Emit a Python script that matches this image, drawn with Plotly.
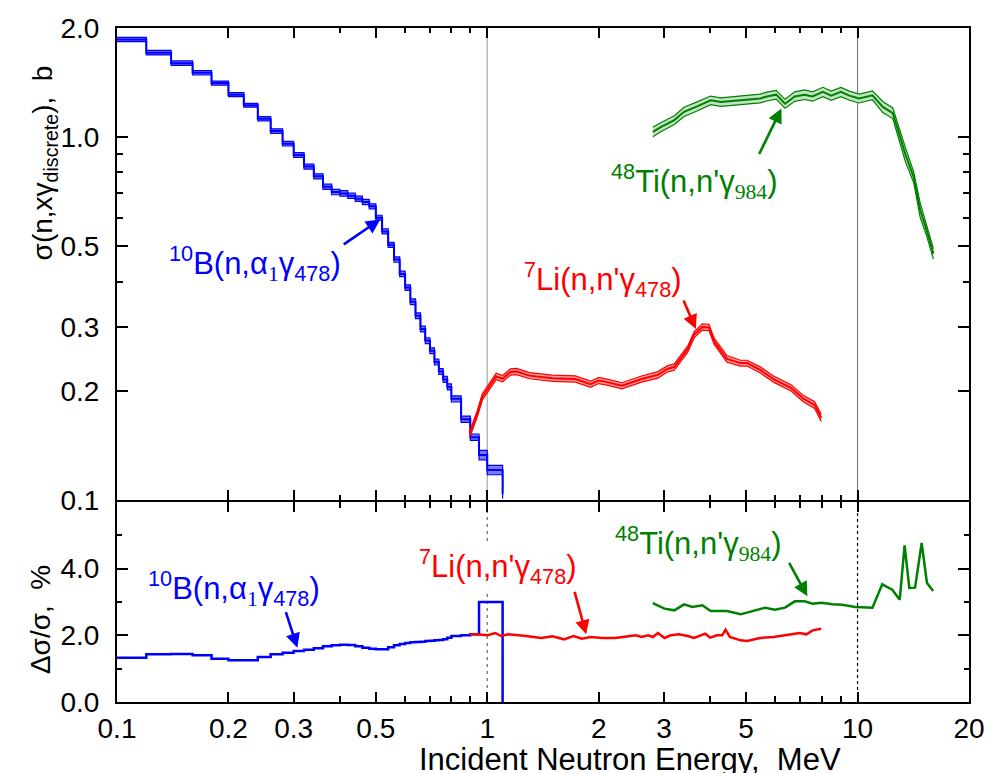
import numpy as np
import plotly.graph_objects as go

FONT = "Liberation Sans"

# ---------------- 10B(n,alpha1 gamma478): group-wise histogram ----------------
b10_edges = [0.10, 0.12, 0.14, 0.16, 0.18, 0.20, 0.22, 0.24, 0.26, 0.28,
             0.30, 0.32, 0.34, 0.36, 0.38, 0.40, 0.42, 0.44, 0.46, 0.48,
             0.50, 0.52, 0.54, 0.56, 0.58, 0.60, 0.62, 0.64, 0.66, 0.68,
             0.70, 0.72, 0.74, 0.76, 0.78, 0.80, 0.85, 0.90, 0.95, 1.00, 1.10]
b10_xs = [1.86, 1.71, 1.60, 1.505, 1.41, 1.31, 1.225, 1.125, 1.04, 0.96,
          0.893, 0.83, 0.78, 0.73, 0.706, 0.700, 0.690, 0.677, 0.663, 0.645,
          0.600, 0.550, 0.505, 0.460, 0.420, 0.385, 0.352, 0.322, 0.296, 0.275,
          0.258, 0.240, 0.226, 0.215, 0.205, 0.190, 0.167, 0.149, 0.133, 0.121]
b10_err = [1.33, 1.43, 1.44, 1.40, 1.30, 1.25, 1.25, 1.35, 1.43, 1.48,
           1.53, 1.57, 1.61, 1.67, 1.70, 1.72, 1.71, 1.67, 1.63, 1.60,
           1.58, 1.58, 1.64, 1.70, 1.74, 1.77, 1.79, 1.80, 1.81, 1.83,
           1.84, 1.85, 1.86, 1.88, 1.93, 1.98, 2.00, 2.03, 3.00, 3.00]
b10_close_xs = 0.104   # closing edge of the last group
b10_close_err = 0.0

# ---------------- 7Li(n,n'gamma478) ----------------
li7_e = [0.897, 0.92, 0.94, 0.97, 1.00, 1.02, 1.057, 1.10, 1.155, 1.20,
         1.30, 1.50, 1.73, 1.90, 2.00, 2.12, 2.31, 2.61, 2.89, 3.07,
         3.20, 3.48, 3.62, 3.81, 3.97, 4.10, 4.44, 4.83, 5.03, 5.46,
         5.93, 6.63, 7.13, 7.66, 7.98]
li7_xs = [0.152, 0.163, 0.173, 0.1925, 0.201, 0.207, 0.219, 0.216, 0.2254, 0.226,
          0.2202, 0.2166, 0.2155, 0.2085, 0.2135, 0.211, 0.2065, 0.2155, 0.2213, 0.2301,
          0.2325, 0.2608, 0.2855, 0.300, 0.299, 0.2738, 0.2449, 0.2384, 0.2384, 0.2284,
          0.2155, 0.2035, 0.1904, 0.1827, 0.1684]
li7_err_e = [0.897, 0.935, 1.00, 1.05, 1.09, 1.14, 1.27, 1.40, 1.50, 1.61,
             1.71, 1.80, 1.90, 2.04, 2.22, 2.37, 2.52, 2.61, 2.72, 2.80,
             2.89, 3.01, 3.13, 3.29, 3.48, 3.62, 3.79, 3.88, 4.00, 4.17,
             4.31, 4.40, 4.52, 4.83, 5.03, 5.46, 5.93, 6.65, 6.98, 7.28,
             7.56, 7.98]
li7_err = [2.03, 2.03, 2.00, 2.07, 1.98, 2.03, 1.98, 1.92, 1.97, 1.88,
           1.98, 1.90, 1.95, 1.92, 1.92, 1.97, 2.00, 1.95, 2.00, 1.95,
           2.07, 1.92, 2.00, 2.03, 1.98, 1.92, 2.00, 2.05, 1.93, 2.00,
           2.00, 2.17, 1.95, 1.85, 1.83, 1.92, 1.95, 2.02, 2.07, 2.03,
           2.15, 2.20]

# ---------------- 48Ti(n,n'gamma984) ----------------
ti48_e = [2.80, 2.95, 3.20, 3.40, 3.70, 4.01, 4.27, 4.83, 5.46, 5.69,
          6.03, 6.37, 6.77, 7.20, 7.56, 8.06, 8.49, 9.02, 9.50, 10.1,
          10.97, 11.7, 12.45, 13.45, 14.18, 14.77, 15.38, 16.03]
ti48_xs = [1.034, 1.068, 1.115, 1.175, 1.218, 1.264, 1.250, 1.264, 1.279, 1.295,
           1.310, 1.237, 1.295, 1.310, 1.295, 1.333, 1.302, 1.333, 1.302, 1.279,
           1.305, 1.212, 1.165, 0.900, 0.776, 0.629, 0.553, 0.477]
ti48_err_e = [2.80, 3.01, 3.20, 3.40, 3.58, 3.81, 4.01, 4.44, 4.83, 5.24,
              5.63, 5.98, 6.37, 6.77, 7.20, 7.56, 7.98, 8.56, 9.08, 9.86,
              10.97, 11.66, 12.41, 13.0, 13.4, 13.8, 14.3, 14.9, 15.4, 16.0]
ti48_err = [2.97, 2.80, 2.75, 2.93, 2.85, 2.90, 2.73, 2.73, 2.63, 2.73,
            2.83, 2.77, 2.83, 3.02, 3.02, 2.95, 2.98, 2.93, 2.92, 2.85,
            2.83, 3.53, 3.37, 3.07, 4.70, 3.42, 3.43, 4.77, 3.57, 3.33]

# ---------------- axis ticks ----------------
x_tickvals = [0.1, 0.2, 0.3, 0.5, 1, 2, 3, 5, 10, 20]
x_ticktext = ["0.1", "0.2", "0.3", "0.5", "1", "2", "3", "5", "10", "20"]
x_minor = [0.4, 0.6, 0.7, 0.8, 0.9, 4, 6, 7, 8, 9]
ys_tickvals = [0.1, 0.2, 0.3, 0.5, 1.0, 2.0]
ys_ticktext = ["0.1", "0.2", "0.3", "0.5", "1.0", "2.0"]
ys_minor = [0.4, 0.6, 0.7, 0.8, 0.9]
ye_tickvals = [0, 2, 4, 6]
ye_ticktext = ["0.0", "2.0", "4.0", ""]
ye_minor = [1, 3, 5]

BLUE, RED, GREEN = "#0000ff", "#ff0000", "#008000"
BLUE_FILL = "rgba(100,100,255,0.85)"
RED_FILL = "rgba(255,140,140,0.85)"
GREEN_FILL = "rgba(190,225,190,0.95)"

fig = go.Figure()


def add_band(x, y, rel, color, fill, shape="linear", width=2.2):
    y = np.asarray(y, float)
    rel = np.asarray(rel, float) / 100.0
    lo, hi = y * (1 - rel), y * (1 + rel)
    common = dict(mode="lines", hoverinfo="skip", showlegend=False,
                  xaxis="x2", yaxis="y2")
    fig.add_trace(go.Scatter(x=x, y=lo, line=dict(color=color, width=1.2, shape=shape), **common))
    fig.add_trace(go.Scatter(x=x, y=hi, line=dict(color=color, width=1.2, shape=shape),
                             fill="tonexty", fillcolor=fill, **common))
    fig.add_trace(go.Scatter(x=x, y=y, line=dict(color=color, width=width, shape=shape), **common))


# 10B histogram as step lines (closing drop at the last edge)
b10_x = b10_edges + [b10_edges[-1]]
b10_y = b10_xs + [b10_xs[-1], b10_close_xs]
b10_r = b10_err + [b10_err[-1], b10_err[-1]]
add_band(b10_x, b10_y, b10_r, BLUE, BLUE_FILL, shape="hv", width=2.0)

# 7Li and 48Ti bands, uncertainty taken from the lower panel curves
add_band(li7_e, li7_xs, np.interp(np.log(li7_e), np.log(li7_err_e), li7_err), RED, RED_FILL, width=2.0)
add_band(ti48_e, ti48_xs, np.interp(np.log(ti48_e), np.log(ti48_err_e), ti48_err), GREEN, GREEN_FILL, width=2.0)

# Lower panel: relative uncertainties
fig.add_trace(go.Scatter(x=b10_x, y=b10_err + [b10_err[-1], b10_close_err],
                         mode="lines", line=dict(color=BLUE, width=2.5, shape="hv"),
                         showlegend=False, xaxis="x", yaxis="y"))
fig.add_trace(go.Scatter(x=li7_err_e, y=li7_err, mode="lines",
                         line=dict(color=RED, width=2.5), showlegend=False, xaxis="x", yaxis="y"))
fig.add_trace(go.Scatter(x=ti48_err_e, y=ti48_err, mode="lines",
                         line=dict(color=GREEN, width=2.5), showlegend=False, xaxis="x", yaxis="y"))

# Reference lines at 1 and 10 MeV
shapes = [
    dict(type="line", xref="x2", yref="y2 domain", x0=1, x1=1, y0=0, y1=1,
         line=dict(color="#b8b8b8", width=1.5), layer="below"),
    dict(type="line", xref="x2", yref="y2 domain", x0=10, x1=10, y0=0, y1=1,
         line=dict(color="#808080", width=1.2), layer="below"),
    dict(type="line", xref="x", yref="y domain", x0=1, x1=1, y0=0, y1=1,
         line=dict(color="#808080", width=1.5, dash="3px,4px"), layer="below"),
    dict(type="line", xref="x", yref="y domain", x0=10, x1=10, y0=0, y1=1,
         line=dict(color="#000000", width=1.2, dash="3px,3px"), layer="below"),
]

SER = "font-family:'Liberation Serif'"
b10_label = f"<sup>10</sup>B(n,α<sub><span style=\"{SER}\">1</span></sub>γ<sub>478</sub>)"
li7_label = "<sup>7</sup>Li(n,n'γ<sub>478</sub>)"
ti48_label = f"<sup>48</sup>Ti(n,n'γ<sub><span style=\"{SER}\">984</span></sub>)"

LBL = 31
ann = []


def label(text, e, v, color, xr, yr, logy, bg=None):
    d = dict(text=text, x=np.log10(e), y=np.log10(v) if logy else v, xref=xr, yref=yr,
             showarrow=False, xanchor="center", yanchor="middle",
             font=dict(family=FONT, size=LBL, color=color))
    if bg:
        d["bgcolor"] = bg
    ann.append(d)


def arrow(e, v, ax, ay, color, xr, yr, logy):
    ann.append(dict(text="", x=np.log10(e), y=np.log10(v) if logy else v, xref=xr, yref=yr,
                    ax=ax, ay=ay, showarrow=True, arrowhead=2, arrowsize=1.1,
                    arrowwidth=2.6, arrowcolor=color, standoff=0))


# upper panel labels
label(b10_label, 0.2353, 0.4485, BLUE, "x2", "y2", True)
arrow(0.514, 0.5935, -38, 26, BLUE, "x2", "y2", True)
label(li7_label, 2.055, 0.405, RED, "x2", "y2", True)
arrow(3.66, 0.296, -13, -30, RED, "x2", "y2", True)
label(ti48_label, 3.62, 0.756, GREEN, "x2", "y2", True)
arrow(6.23, 1.20, -23, 47, GREEN, "x2", "y2", True)

# lower panel labels
label(b10_label, 0.2068, 3.41, BLUE, "x", "y", False)
arrow(0.307, 1.63, -12, -37, BLUE, "x", "y", False)
label(li7_label, 1.07, 4.07, RED, "x", "y", False, bg="white")
arrow(1.85, 2.03, -12, -44, RED, "x", "y", False)
label(ti48_label, 3.71, 4.76, GREEN, "x", "y", False)
arrow(7.32, 3.17, -19, -35, GREEN, "x", "y", False)

# axis titles
ann.append(dict(text="Incident Neutron Energy,\u00a0 MeV", xref="paper", yref="paper",
                x=0.602, y=-0.086, showarrow=False, xanchor="center", yanchor="middle",
                font=dict(family=FONT, size=31, color="black")))
ann.append(dict(text="σ(n,xγ<sub>discrete</sub>),\u00a0 b", xref="paper", yref="paper",
                x=-0.085, y=0.800, showarrow=False, xanchor="center", yanchor="middle",
                textangle=-90, font=dict(family=FONT, size=28, color="black")))
ann.append(dict(text="Δσ/σ,\u00a0 %", xref="paper", yref="paper",
                x=-0.090, y=0.122, showarrow=False, xanchor="center", yanchor="middle",
                textangle=-90, font=dict(family=FONT, size=28, color="black")))

SPLIT = 0.2997
LOW_TOP = SPLIT - 2.0 / 674
tickfont = dict(family=FONT, size=28, color="black")
axis_common = dict(showline=True, linewidth=2, linecolor="black", showgrid=False,
                   zeroline=False, tickwidth=2, tickcolor="black", tickfont=tickfont)

fig.update_layout(
    width=997, height=773,
    margin=dict(l=117, r=19, t=28, b=71),
    paper_bgcolor="white", plot_bgcolor="white",
    showlegend=False,
    shapes=shapes, annotations=ann,
    xaxis=dict(type="log", range=[-1, np.log10(20)], domain=[0, 1], anchor="y",
               tickvals=x_tickvals, ticktext=x_ticktext, ticks="inside", ticklen=10,
               mirror="ticks", ticklabelstandoff=0,
               minor=dict(tickvals=x_minor, ticks="inside", ticklen=6, tickwidth=2, tickcolor="black"),
               **axis_common),
    yaxis=dict(range=[0, 6], domain=[0, LOW_TOP], anchor="x",
               tickvals=ye_tickvals, ticktext=ye_ticktext, ticks="inside", ticklen=11,
               mirror="ticks", ticklabelstandoff=10,
               minor=dict(tickvals=ye_minor, ticks="inside", ticklen=5, tickwidth=2, tickcolor="black"),
               **axis_common),
    xaxis2=dict(type="log", range=[-1, np.log10(20)], domain=[0, 1], anchor="y2",
                matches="x", showticklabels=False,
                tickvals=x_tickvals, ticks="inside", ticklen=10, mirror="ticks",
                minor=dict(tickvals=x_minor, ticks="inside", ticklen=5, tickwidth=2, tickcolor="black"),
                **axis_common),
    yaxis2=dict(type="log", range=[-1, np.log10(2)], domain=[SPLIT, 1], anchor="x2",
                tickvals=ys_tickvals, ticktext=ys_ticktext, ticks="inside", ticklen=11,
                mirror="ticks", ticklabelstandoff=10,
                minor=dict(tickvals=ys_minor, ticks="inside", ticklen=6, tickwidth=2, tickcolor="black"),
                **axis_common),
)

fig.write_html("out.html")
